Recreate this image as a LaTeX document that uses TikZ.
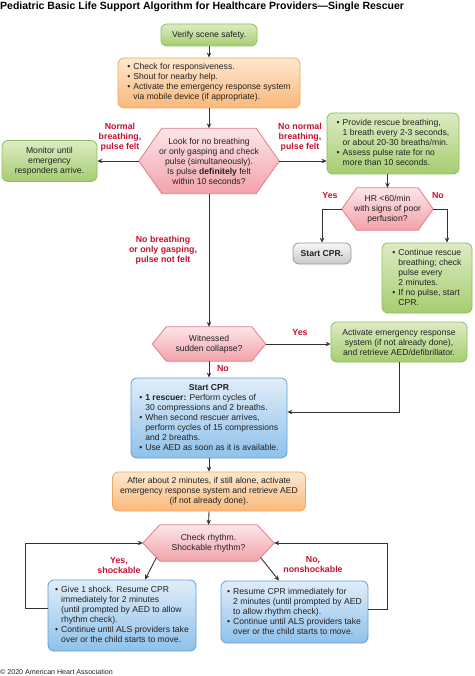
\documentclass[tikz,border=0pt]{standalone}
\usepackage{fontspec}
\setmainfont{Liberation Sans}
\usetikzlibrary{arrows.meta,calc,backgrounds}
\definecolor{grT}{HTML}{DCECC4}
\definecolor{grD}{HTML}{A6CD70}
\definecolor{grB}{HTML}{8DBE58}
\definecolor{orT}{HTML}{FEE8D0}
\definecolor{orD}{HTML}{F9B87A}
\definecolor{orB}{HTML}{F3A65E}
\definecolor{pkT}{HTML}{FCE6E8}
\definecolor{pkD}{HTML}{F2A2AA}
\definecolor{pkB}{HTML}{E07C88}
\definecolor{blT}{HTML}{E0EDF9}
\definecolor{blD}{HTML}{8FC1EA}
\definecolor{blB}{HTML}{5E9FD6}
\definecolor{gyT}{HTML}{F8F8F8}
\definecolor{gyD}{HTML}{C8C8C8}
\definecolor{gyB}{HTML}{9A9A9A}
\definecolor{labred}{HTML}{C8102E}
\definecolor{arc}{HTML}{333333}
\definecolor{txt}{HTML}{222222}
\newcommand{\hexbg}[2]{%
  \begin{scope}[on background layer]
  \shade[hexfill] (#1.west) -- ([xshift=#2]#1.north west) -- ([xshift=-#2]#1.north east)
    -- (#1.east) -- ([xshift=-#2]#1.south east) -- ([xshift=#2]#1.south west) -- cycle;
  \end{scope}}
\newenvironment{blist}{\begin{tabular}{@{}l@{\hspace{3pt}}l@{}}}{\end{tabular}}
\tikzset{
  every node/.style={font=\fontsize{8.6}{10}\selectfont, text=txt},
  box/.style={rounded corners=6pt, line width=0.8pt, inner sep=0pt, align=center},
  greenbox/.style={box, draw=grB, top color=grT, bottom color=grD},
  orangebox/.style={box, draw=orB, top color=orT, bottom color=orD},
  bluebox/.style={box, draw=blB, top color=blT, bottom color=blD},
  graybox/.style={box, draw=gyB, top color=gyT, bottom color=gyD},
  hexnode/.style={inner sep=0pt, align=center},
  hexfill/.style={draw=pkB, line width=0.8pt, top color=pkT, bottom color=pkD},
  arr/.style={draw=arc, line width=0.9pt, -{Stealth[length=5pt,width=4.5pt]}},
  lab/.style={text=labred, font=\bfseries\fontsize{8.8}{10}\selectfont, align=center, inner sep=0pt},
}
\begin{document}
\begin{tikzpicture}[x=1pt,y=-1pt]
\useasboundingbox (0,0) rectangle (474,676);
\node[anchor=west, inner sep=0pt, text=black, font=\bfseries\fontsize{10.5}{12}\selectfont] (title) at (0,7) {Pediatric Basic Life Support Algorithm for Healthcare Providers—Single Rescuer};

\node[greenbox, minimum width=96pt, minimum height=22pt] (verify) at (209,35) {Verify scene safety.};
\node[orangebox, minimum width=182pt, minimum height=50pt] (check) at (209,83) {\begin{blist}
\textbullet & Check for responsiveness.\\
\textbullet & Shout for nearby help.\\
\textbullet & Activate the emergency response system\\
 & via mobile device (if appropriate).\end{blist}};
\node[hexnode, minimum width=140pt, minimum height=65pt] (d1) at (209,161) {Look for no breathing\\or only gasping and check\\pulse (simultaneously).\\Is pulse \textbf{definitely} felt\\within 10 seconds?};
\hexbg{d1}{23pt}
\node[greenbox, minimum width=95pt, minimum height=41pt] (monitor) at (49.5,161) {Monitor until\\emergency\\responders arrive.};
\node[greenbox, minimum width=132pt, minimum height=61pt] (rescue) at (393,143.5) {\begin{blist}
\textbullet & Provide rescue breathing,\\
 & 1 breath every 2-3 seconds,\\
 & or about 20-30 breaths/min.\\
\textbullet & Assess pulse rate for no\\
 & more than 10 seconds.\end{blist}};
\node[hexnode, minimum width=91pt, minimum height=42pt] (d2) at (387.5,209) {HR <60/min\\with signs of poor\\perfusion?};
\hexbg{d2}{15pt}
\node[graybox, minimum width=58pt, minimum height=21pt, font=\bfseries\fontsize{8.6}{10}\selectfont] (startcpr) at (322,253.5) {Start CPR.};
\node[greenbox, minimum width=90pt, minimum height=70pt] (cont) at (427,278) {\begin{blist}
\textbullet & Continue rescue\\
 & breathing; check\\
 & pulse every\\
 & 2 minutes.\\
\textbullet & If no pulse, start\\
 & CPR.\end{blist}};
\node[hexnode, minimum width=113pt, minimum height=34pt] (d3) at (209,344) {Witnessed\\sudden collapse?};
\hexbg{d3}{14pt}
\node[greenbox, minimum width=136pt, minimum height=40pt] (activate) at (399,342) {Activate emergency response\\system (if not already done),\\and retrieve AED/defibrillator.};
\node[bluebox, minimum width=156pt, minimum height=80pt] (cpr) at (209,418) {\begin{blist}
\multicolumn{2}{c}{\textbf{Start CPR}}\\
\textbullet & \textbf{1 rescuer:} Perform cycles of\\
 & 30 compressions and 2 breaths.\\
\textbullet & When second rescuer arrives,\\
 & perform cycles of 15 compressions\\
 & and 2 breaths.\\
\textbullet & Use AED as soon as it is available.\end{blist}};
\node[orangebox, minimum width=193pt, minimum height=39pt] (after) at (209,491.5) {After about 2 minutes, if still alone, activate\\emergency response system and retrieve AED\\(if not already done).};
\node[hexnode, minimum width=131pt, minimum height=36pt] (d4) at (208.5,543) {Check rhythm.\\Shockable rhythm?};
\hexbg{d4}{17pt}
\node[bluebox, minimum width=148pt, minimum height=71pt] (shock) at (122,615.5) {\begin{blist}
\textbullet & Give 1 shock. Resume CPR\\
 & immediately for 2 minutes\\
 & (until prompted by AED to allow\\
 & rhythm check).\\
\textbullet & Continue until ALS providers take\\
 & over or the child starts to move.\end{blist}};
\node[bluebox, minimum width=147pt, minimum height=62pt] (noshock) at (294.5,612) {\begin{blist}
\textbullet & Resume CPR immediately for\\
 & 2 minutes (until prompted by AED\\
 & to allow rhythm check).\\
\textbullet & Continue until ALS providers take\\
 & over or the child starts to move.\end{blist}};
\node[anchor=west, inner sep=0pt, font=\fontsize{7.1}{8}\selectfont] (copy) at (0,672) {© 2020 American Heart Association};

% connectors
\draw[arr] (verify.south) -- (check.north);
\draw[arr] (check.south) -- (d1.north);
\draw[arr] (d1.west) -- (monitor.east);
\draw[arr] (d1.east) -- (d1.east -| rescue.west);
\draw[arr] (d2.north |- rescue.south) -- (d2.north);
\draw[arr] (d2.west) -| (startcpr.north);
\coordinate (c2) at ([xshift=20pt]cont.north);
\draw[arr] (d2.east) -| (c2);
\draw[arr] (d1.south) -- (d3.north);
\draw[arr] (d3.east) -- (d3.east -| activate.west);
\draw[arr] (activate.south) |- ([yshift=6pt]cpr.east);
\draw[arr] (d3.south) -- (cpr.north);
\draw[arr] (cpr.south) -- (after.north);
\draw[arr] (after.south) -- (d4.north);
\draw[arr] ([yshift=7.5pt]shock.west) -- ++(-22,0) |- (d4.west);
\draw[arr] ([yshift=3pt]noshock.east) -- ++(19,0) |- (d4.east);
\coordinate (sl) at ($(d4.west)!0.8!([xshift=17pt]d4.south west)$);
\draw[arr] (sl) -- ([xshift=23pt]shock.north);
\coordinate (sr) at ($(d4.east)!0.8!([xshift=-17pt]d4.south east)$);
\draw[arr] (sr) -- ([xshift=-15.5pt]noshock.north);

% labels
\node[lab] (l1) at (120,137) {Normal\\breathing,\\pulse felt};
\node[lab] (l2) at (300,137) {No normal\\breathing,\\pulse felt};
\node[lab] (l3) at (330,196) {Yes};
\node[lab] (l4) at (438,196) {No};
\node[lab] (l5) at (163,250) {No breathing\\or only gasping,\\pulse not felt};
\node[lab] (l6) at (300,333) {Yes};
\node[lab] (l7) at (223,369) {No};
\node[lab] (l8) at (119,565.5) {Yes,\\shockable};
\node[lab] (l9) at (313,564.5) {No,\\nonshockable};
\end{tikzpicture}
\end{document}
